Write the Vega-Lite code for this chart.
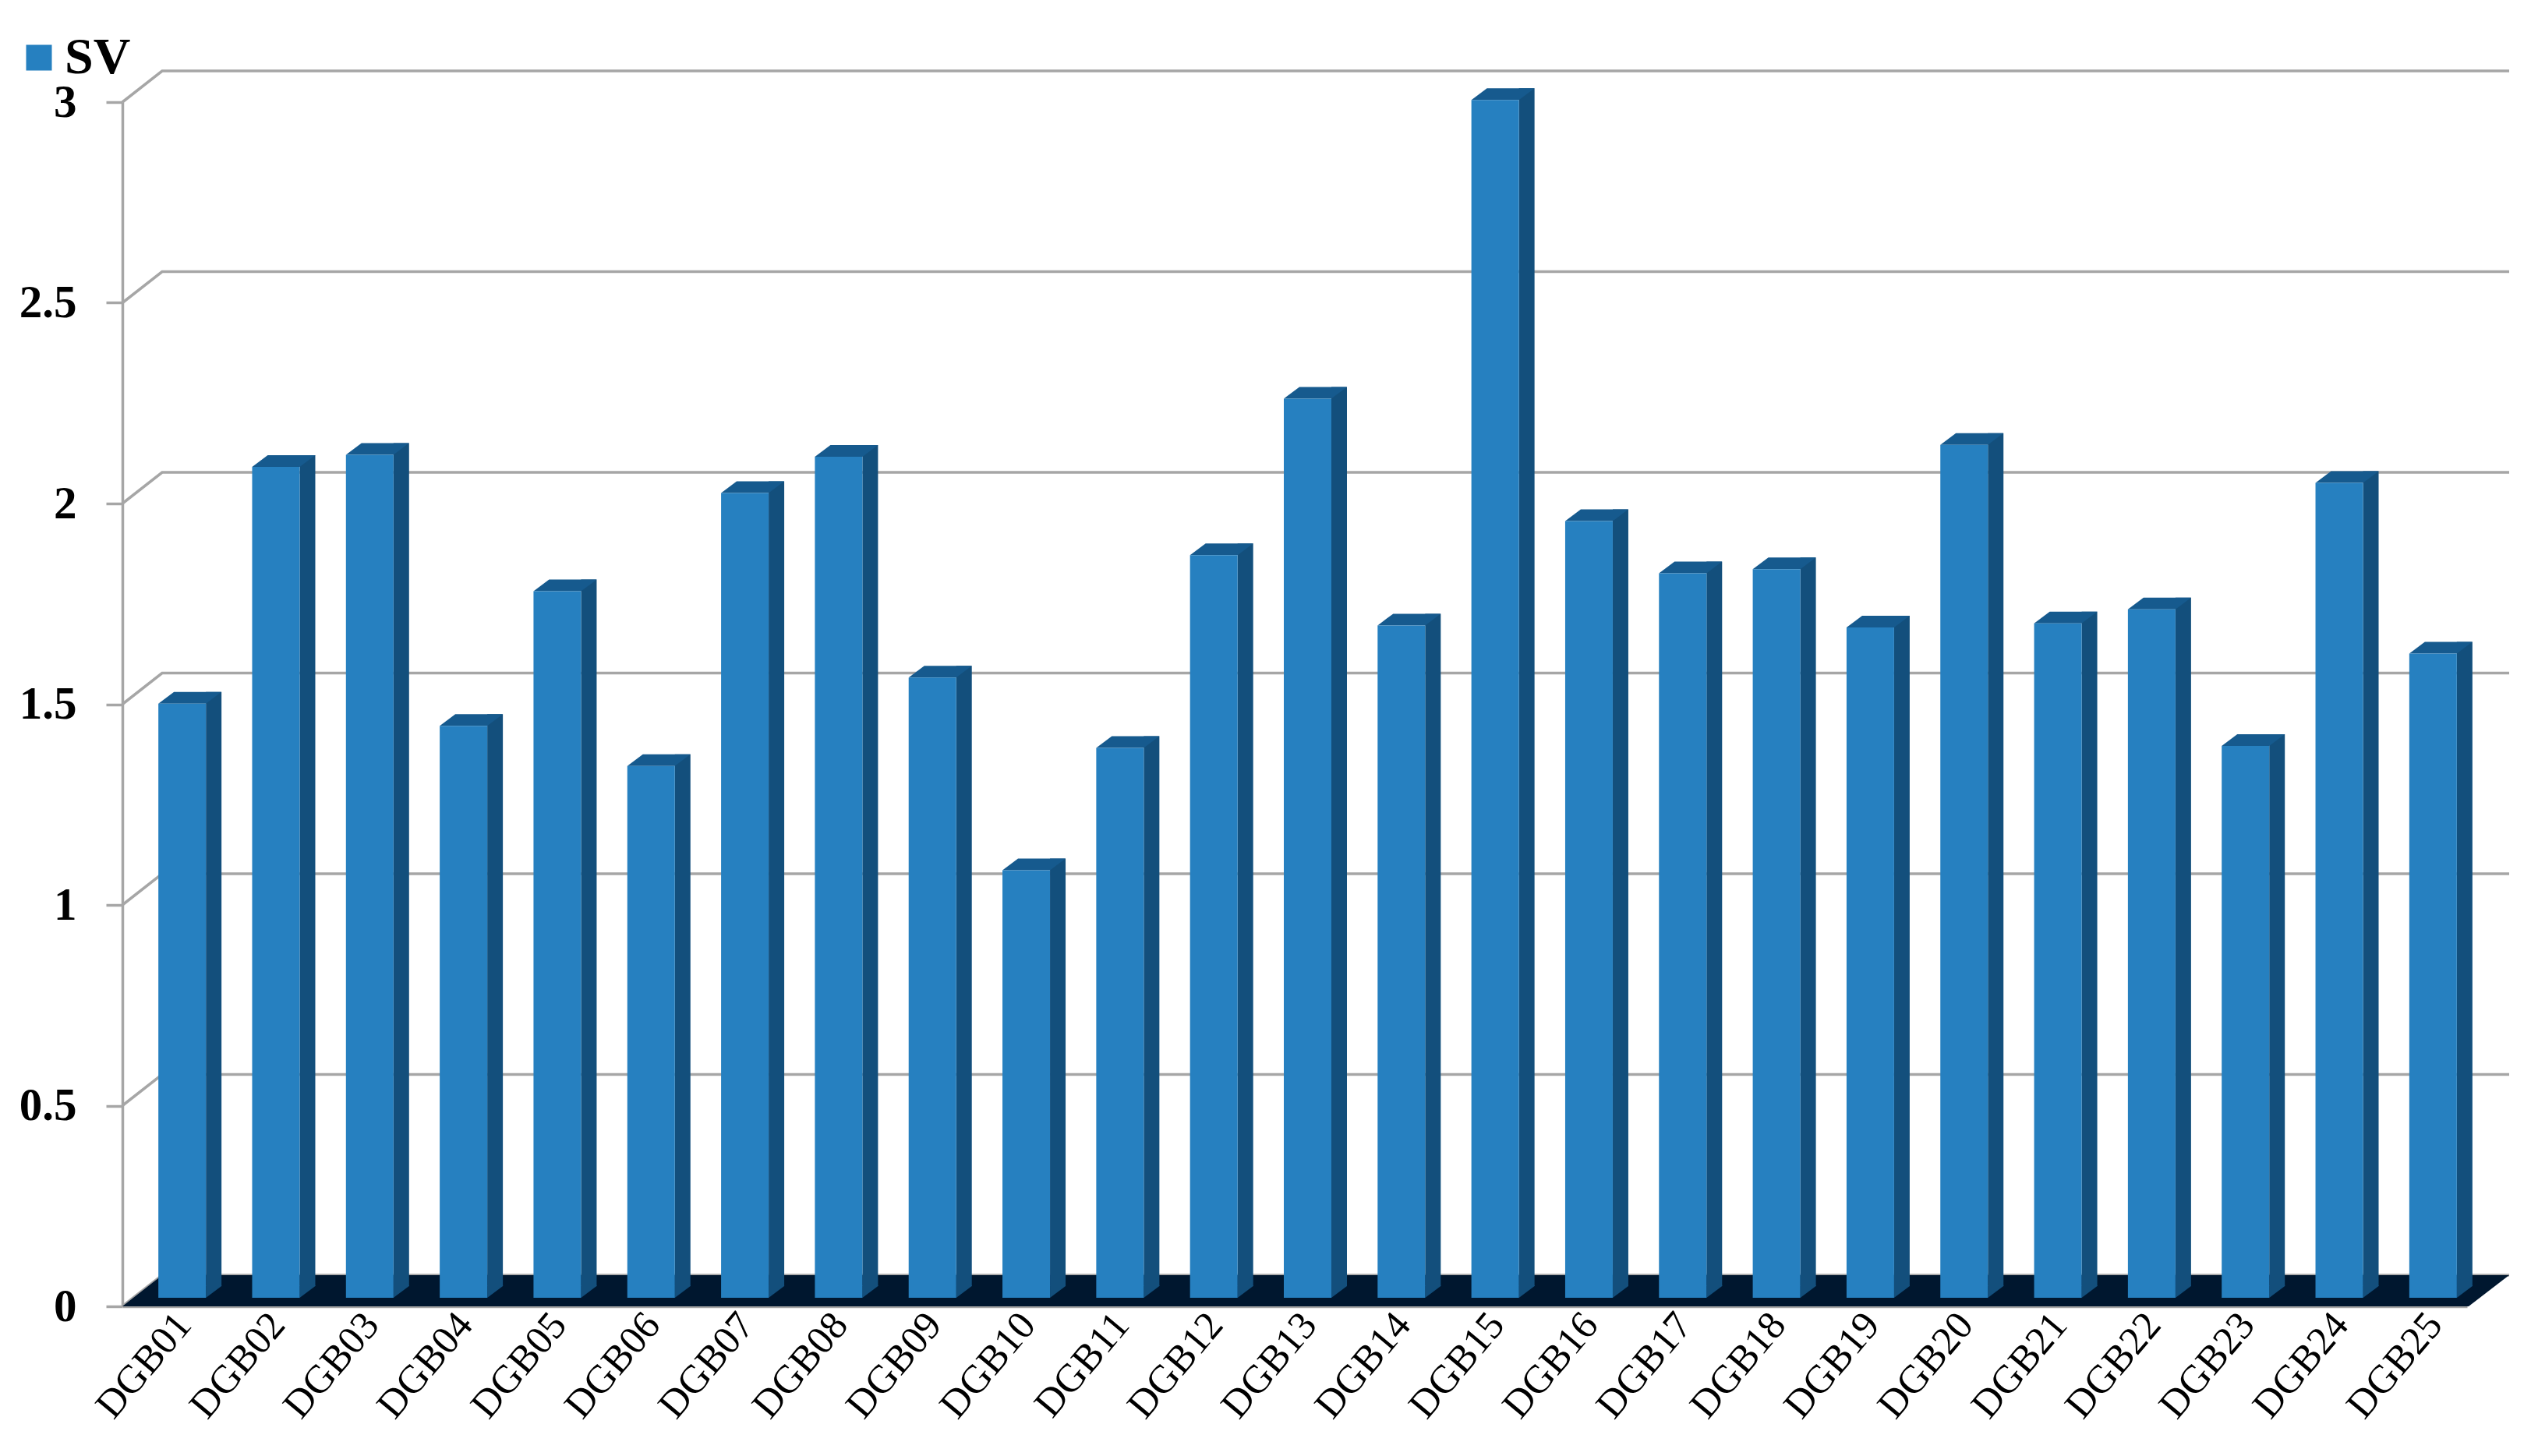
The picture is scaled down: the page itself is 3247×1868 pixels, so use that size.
{
"$schema":"https://vega.github.io/schema/vega-lite/v6.json",
"width":3008,"height":1545,
"autosize":{"type":"none"},
"padding":{"left":157,"top":131,"right":82,"bottom":192},
"background":"white",
"config":{"view":{"stroke":null},"font":"Liberation Serif"},
"datasets":{
"bars":[
{"id":"DGB01","series":"SV","value":1.48},{"id":"DGB02","series":"SV","value":2.07},{"id":"DGB03","series":"SV","value":2.10},{"id":"DGB04","series":"SV","value":1.425},{"id":"DGB05","series":"SV","value":1.76},
{"id":"DGB06","series":"SV","value":1.325},{"id":"DGB07","series":"SV","value":2.005},{"id":"DGB08","series":"SV","value":2.095},{"id":"DGB09","series":"SV","value":1.545},{"id":"DGB10","series":"SV","value":1.065},
{"id":"DGB11","series":"SV","value":1.37},{"id":"DGB12","series":"SV","value":1.85},{"id":"DGB13","series":"SV","value":2.24},{"id":"DGB14","series":"SV","value":1.675},{"id":"DGB15","series":"SV","value":2.984},
{"id":"DGB16","series":"SV","value":1.935},{"id":"DGB17","series":"SV","value":1.805},{"id":"DGB18","series":"SV","value":1.815},{"id":"DGB19","series":"SV","value":1.67},{"id":"DGB20","series":"SV","value":2.125},
{"id":"DGB21","series":"SV","value":1.68},{"id":"DGB22","series":"SV","value":1.715},{"id":"DGB23","series":"SV","value":1.375},{"id":"DGB24","series":"SV","value":2.03},{"id":"DGB25","series":"SV","value":1.605}],
"ticks":[{"id":"DGB13","tick":0},{"id":"DGB13","tick":0.5},{"id":"DGB13","tick":1},{"id":"DGB13","tick":1.5},{"id":"DGB13","tick":2},{"id":"DGB13","tick":2.5},{"id":"DGB13","tick":3}],
"floor":[{"id":"DGB13","tick":0}]
},
"layer":[
{"data":{"name":"ticks"},
 "mark":{"type":"point","filled":false,"opacity":1,"size":4,"stroke":"#a6a6a6","strokeWidth":3.5,"shape":"M-1504 0 L-1453 -40 L1558 -40"},
 "encoding":{
  "x":{"field":"id","type":"nominal","sort":null,"scale":{"type":"band","paddingInner":0.49,"paddingOuter":0.245,"domain":["DGB01","DGB02","DGB03","DGB04","DGB05","DGB06","DGB07","DGB08","DGB09","DGB10","DGB11","DGB12","DGB13","DGB14","DGB15","DGB16","DGB17","DGB18","DGB19","DGB20","DGB21","DGB22","DGB23","DGB24","DGB25"]},
    "axis":{"title":null,"labelAngle":-50,"labelAlign":"right","labelBaseline":"middle","labelFont":"Liberation Serif","labelFontSize":51,"labelColor":"#000","labelPadding":15,"labelOffset":19,"ticks":false,"domainColor":"#a6a6a6","domainWidth":3.5,"grid":false,"labelOverlap":false}},
  "y":{"field":"tick","type":"quantitative","scale":{"domain":[0,3],"nice":false},
    "axis":{"title":null,"values":[0,0.5,1,1.5,2,2.5,3],"format":"~g","labelFont":"Liberation Serif","labelFontWeight":"bold","labelFontSize":59,"labelColor":"#000","labelPadding":38,"tickSize":21,"tickWidth":3.5,"tickColor":"#a6a6a6","domainColor":"#a6a6a6","domainWidth":3.5,"grid":false}}
 }},
{"data":{"name":"floor"},
 "mark":{"type":"point","filled":true,"opacity":1,"size":4,"strokeWidth":0,"fill":"#00172f","shape":"M-1504 0 L1506 0 L1558 -40 L-1453 -40 Z"},
 "encoding":{"x":{"field":"id","type":"nominal","sort":null},"y":{"field":"tick","type":"quantitative"}}},
{"data":{"name":"bars"},
 "mark":{"type":"bar","size":20,"xOffset":57,"yOffset":-26,"fill":"#134f7c"},
 "encoding":{"x":{"field":"id","type":"nominal","sort":null},"y":{"field":"value","type":"quantitative"}}},
{"data":{"name":"bars"},
 "mark":{"type":"point","filled":true,"opacity":1,"size":4,"strokeWidth":0,"fill":"#165a8e","shape":"M-14 -11 L47 -11 L67 -26 L6 -26 Z"},
 "encoding":{"x":{"field":"id","type":"nominal","sort":null},"y":{"field":"value","type":"quantitative"}}},
{"data":{"name":"bars"},
 "transform":[{"calculate":"0","as":"base"}],
 "mark":{"type":"point","filled":true,"opacity":1,"size":4,"strokeWidth":0,"fill":"#134f7c","shape":"M47 -11 L47 -27 L67 -27 L67 -26 Z"},
 "encoding":{"x":{"field":"id","type":"nominal","sort":null},"y":{"field":"base","type":"quantitative"}}},
{"data":{"name":"bars"},
 "mark":{"type":"bar","size":61,"xOffset":16.5,"yOffset":-11},
 "encoding":{"x":{"field":"id","type":"nominal","sort":null},"y":{"field":"value","type":"quantitative"},
  "color":{"field":"series","type":"nominal","scale":{"range":["#2680c0"]},
   "legend":{"title":null,"orient":"none","legendX":-140,"legendY":-90,"symbolType":"square","symbolSize":1089,"symbolStrokeWidth":0,"symbolOpacity":1,"labelFont":"Liberation Serif","labelFontWeight":"bold","labelFontSize":66,"labelColor":"#000","labelOffset":0,"rowPadding":0,"padding":0}}}}
]
}
